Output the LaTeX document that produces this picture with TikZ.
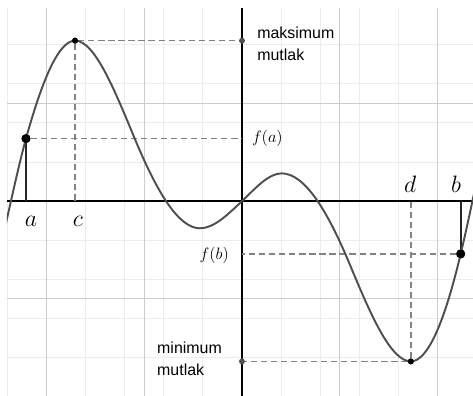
\documentclass[tikz,border=0pt]{standalone}
\usepackage{fontspec}
\setsansfont{Liberation Sans}
\definecolor{gridminor}{RGB}{236,236,236}
\definecolor{gridmajor}{RGB}{204,204,204}
\definecolor{curvegray}{RGB}{78,78,78}
\definecolor{guidegray}{RGB}{130,130,130}
\definecolor{dotgray}{RGB}{80,80,80}

\begin{document}
\begin{tikzpicture}[
  x=0.5cm,y=0.5cm,
  minorline/.style={draw=gridminor,line width=0.7pt},
  majorline/.style={draw=gridmajor,line width=0.8pt},
  axis/.style={draw=black,line width=1pt},
  graph/.style={draw=curvegray,line width=1.4pt},
  guide/.style={draw=guidegray,line width=1pt,dash pattern=on 4.5pt off 2.8pt},
  stem/.style={draw=black!85,line width=1.3pt},
  bigdot/.style={circle,fill=black,inner sep=0pt,minimum size=6.5pt},
  smalldot/.style={circle,fill=black,inner sep=0pt,minimum size=4.3pt},
  axisdot/.style={circle,fill=dotgray,inner sep=0pt,minimum size=4.3pt},
  xlab/.style={inner sep=0pt,font=\fontsize{16.5}{18}\selectfont},
  ylab/.style={inner sep=0pt,font=\fontsize{13}{15}\selectfont},
  note/.style={inner sep=0pt,align=left,anchor=north west,font=\sffamily\fontsize{11.6}{16.4}\selectfont}
]
\useasboundingbox (-12.38,-9.97) rectangle (11.82,10.29);
% grid and axes
\draw[minorline] (-12.03,-9.97) grid (11.82,9.9);
\draw[majorline,step=5] (-12.03,-9.97) grid (11.82,9.9);
\coordinate (xl) at (-12.03,0); \coordinate (xr) at (11.82,0);
\coordinate (yt) at (0,9.9); \coordinate (yb) at (0,-9.97);
\draw[axis] (xl) -- (xr); \draw[axis] (yt) -- (yb);
% points on the graph
\node[bigdot] (pa) at (-11.05,3.20) {};
\node[bigdot] (pb) at (11.19,-2.70) {};
\node[smalldot] (pmax) at (-8.54,8.21) {};
\node[smalldot] (pmin) at (8.64,-8.20) {};
\node[axisdot] (ymax) at (0,8.21) {};
\node[axisdot] (ymin) at (0,-8.20) {};
\coordinate (xa) at (-11.05,0); \coordinate (xb) at (11.19,0);
\coordinate (xc) at (-8.54,0); \coordinate (xd) at (8.64,0);
\coordinate (ya) at (0,3.20); \coordinate (yfb) at (0,-2.70);
% guides
\draw[guide] (pmax) -- (ymax); \draw[guide] (pmax) -- (xc);
\draw[guide] (pmin) -- (ymin); \draw[guide] (pmin) -- (xd);
\draw[guide] (pa) -- (ya); \draw[guide] (pb) -- (yfb);
\draw[stem] (xa) -- (pa); \draw[stem] (xb) -- (pb);
% the graph
\begin{scope}
\clip (-12.03,-9.97) rectangle (11.82,9.9);
\draw[graph] (-12.15,-1.45) .. controls (-11.783,0.127) and (-11.417,1.88) .. (-11.05,3.2)
  .. controls (-10.213,6.212) and (-9.377,8.21) .. (-8.54,8.21)
  .. controls (-7.517,8.21) and (-6.493,5.616) .. (-5.47,3.16)
  .. controls (-4.363,0.504) and (-3.257,-1.39) .. (-2.15,-1.39)
  .. controls (-1.433,-1.39) and (-0.717,-0.681) .. (0,0)
  .. controls (0.677,0.643) and (1.353,1.42) .. (2.03,1.42)
  .. controls (3.187,1.42) and (4.343,-0.424) .. (5.5,-3.2)
  .. controls (6.547,-5.712) and (7.593,-8.2) .. (8.64,-8.2)
  .. controls (9.49,-8.2) and (10.34,-6.27) .. (11.19,-2.7)
  .. controls (11.46,-1.566) and (11.73,-0.296) .. (12.0,1.0);
\end{scope}
\node[bigdot] at (pa) {}; \node[bigdot] at (pb) {};
\node[smalldot] at (pmax) {}; \node[smalldot] at (pmin) {};
% labels
\node[xlab] (la) at (-10.8,-1.02) {$a$};
\node[xlab] (lc) at (-8.39,-1.02) {$c$};
\node[xlab] (ld) at (8.61,0.88) {$d$};
\node[xlab] (lb) at (10.95,0.88) {$b$};
\node[ylab] (lfa) at (1.30,3.20) {$f(a)$};
\node[ylab] (lfb) at (-1.42,-2.80) {$f(b)$};
\node[note] (lmax) at (0.77,8.94) {maksimum\\mutlak};
\node[note] (lmin) at (-4.35,-7.18) {minimum\\mutlak};
\end{tikzpicture}
\end{document}
